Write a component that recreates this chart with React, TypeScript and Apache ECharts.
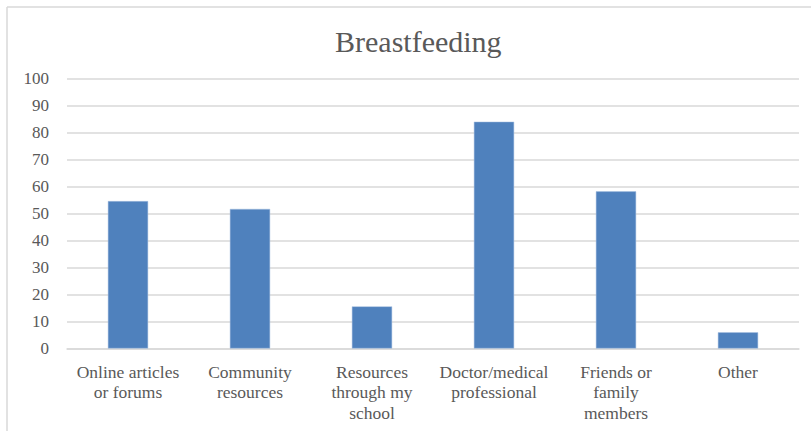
import React, { useEffect, useRef } from "react";
import * as echarts from "echarts";

const categories = [
  "Online articles\nor forums",
  "Community\nresources",
  "Resources\nthrough my\nschool",
  "Doctor/medical\nprofessional",
  "Friends or\nfamily\nmembers",
  "Other",
];
const values = [54.6, 51.7, 15.6, 84.0, 58.2, 6.0];
const titleText = "Breastfeeding";

export default function App() {
  const ref = useRef<HTMLDivElement>(null);
  useEffect(() => {
    const chart = echarts.init(ref.current!, null, { renderer: "svg" });
    const font = "Liberation Serif";
    chart.setOption({
      animation: false,
      backgroundColor: "#ffffff",
      title: {
        text: titleText,
        left: 330,
        top: 21,
        textStyle: { fontFamily: font, fontSize: 30, fontWeight: "normal", color: "#595959" },
      },
      grid: { left: 67, right: 12, top: 78.5, bottom: 82.5, containLabel: false },
      xAxis: {
        type: "category",
        data: categories,
        axisLine: { lineStyle: { color: "#d9d9d9", width: 1.5 } },
        axisTick: { show: false },
        axisLabel: {
          interval: 0,
          margin: 13,
          color: "#595959",
          fontFamily: font,
          fontSize: 17.5,
          lineHeight: 20.5,
        },
      },
      yAxis: {
        type: "value",
        min: 0,
        max: 100,
        interval: 10,
        axisLine: { show: false },
        axisTick: { show: false },
        splitLine: { lineStyle: { color: "#d9d9d9", width: 1.5 } },
        axisLabel: { margin: 18, color: "#595959", fontFamily: font, fontSize: 17 },
      },
      series: [
        {
          type: "bar",
          data: values,
          barWidth: "33%",
          itemStyle: { color: "#4f81bd", borderColor: "#a9c1e0", borderWidth: 0.5 },
        },
      ],
      graphic: [
        { type: "line", shape: { x1: 7, y1: 7, x2: 811, y2: 7 }, style: { stroke: "#d9d9d9", lineWidth: 1.5 } },
        { type: "line", shape: { x1: 7, y1: 7, x2: 7, y2: 431 }, style: { stroke: "#d9d9d9", lineWidth: 1.5 } },
      ],
    });
    return () => chart.dispose();
  }, []);
  return <div ref={ref} style={{ width: 811, height: 431, position: "absolute", left: 0, top: 0 }} />;
}
